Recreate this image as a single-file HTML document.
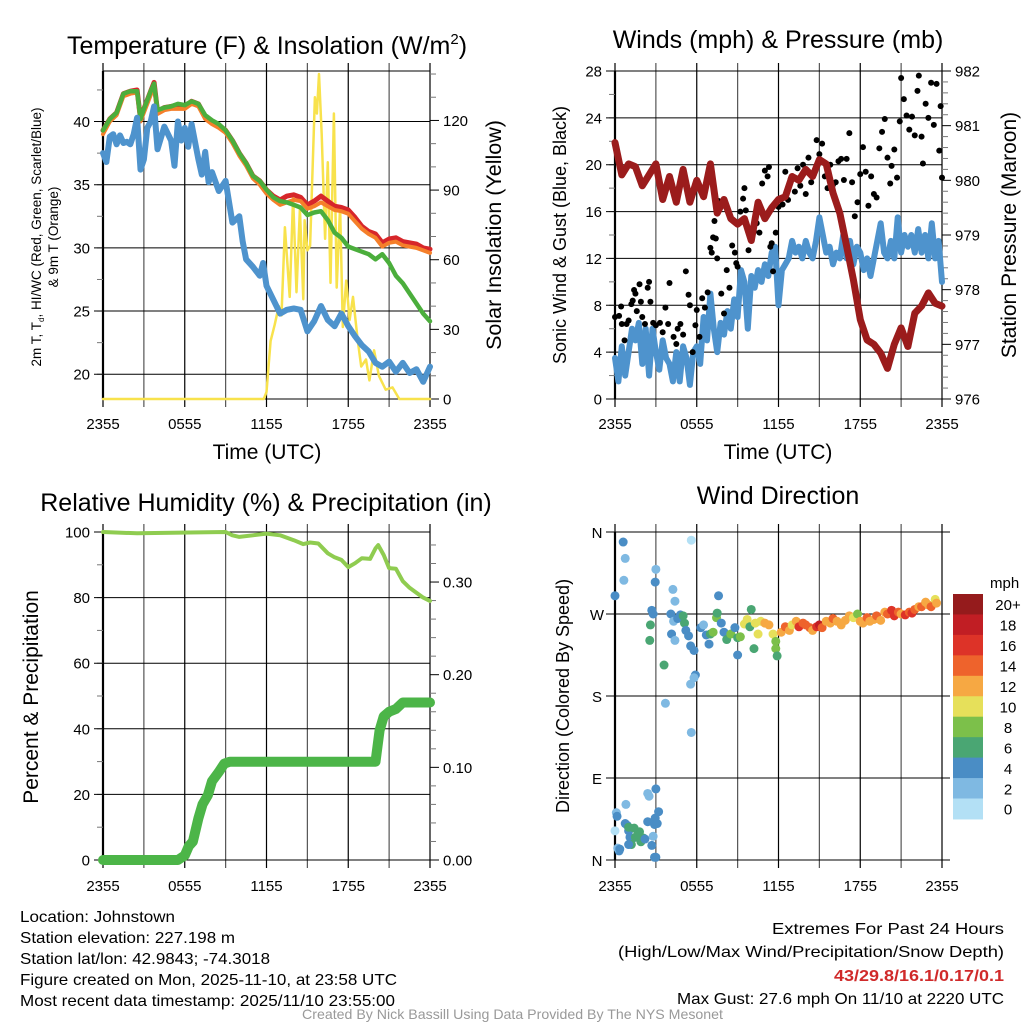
<!DOCTYPE html>
<html><head><meta charset="utf-8">
<style>
html,body{margin:0;padding:0;background:#fff;}
svg{display:block;font-family:"Liberation Sans",sans-serif;}
</style></head>
<body>
<svg id="fig" width="1024" height="1024" viewBox="0 0 1024 1024" xmlns="http://www.w3.org/2000/svg">
<rect x="0" y="0" width="1024" height="1024" fill="#fff"/>
<text x="267" y="54" font-size="25" text-anchor="middle">Temperature (F) &amp; Insolation (W/m<tspan font-size="15" dy="-10">2</tspan><tspan dy="10">)</tspan></text>
<text x="778" y="48" font-size="25" text-anchor="middle">Winds (mph) &amp; Pressure (mb)</text>
<text x="266" y="511" font-size="25" text-anchor="middle">Relative Humidity (%) &amp; Precipitation (in)</text>
<text x="778" y="504" font-size="25" text-anchor="middle">Wind Direction</text>
<g font-size="16">
<text x="20" y="922" textLength="155" lengthAdjust="spacingAndGlyphs">Location: Johnstown</text>
<text x="20" y="943" textLength="215" lengthAdjust="spacingAndGlyphs">Station elevation: 227.198 m</text>
<text x="20" y="964" textLength="250" lengthAdjust="spacingAndGlyphs">Station lat/lon: 42.9843; -74.3018</text>
<text x="20" y="985" textLength="377" lengthAdjust="spacingAndGlyphs">Figure created on Mon, 2025-11-10, at 23:58 UTC</text>
<text x="20" y="1006" textLength="375" lengthAdjust="spacingAndGlyphs">Most recent data timestamp: 2025/11/10 23:55:00</text>
<text x="772" y="934" textLength="232" lengthAdjust="spacingAndGlyphs">Extremes For Past 24 Hours</text>
<text x="618" y="957" textLength="386" lengthAdjust="spacingAndGlyphs">(High/Low/Max Wind/Precipitation/Snow Depth)</text>
<text x="834" y="981" textLength="170" lengthAdjust="spacingAndGlyphs" fill="#d02a2a" font-weight="bold">43/29.8/16.1/0.17/0.1</text>
<text x="677" y="1004" textLength="327" lengthAdjust="spacingAndGlyphs">Max Gust: 27.6 mph On 11/10 at 2220 UTC</text>
<text x="302" y="1019" font-size="14" textLength="421" lengthAdjust="spacingAndGlyphs" fill="#999">Created By Nick Bassill Using Data Provided By The NYS Mesonet</text>
</g>
</svg>
<script>
// ---------- data ----------
const xTickLabels = ["2355","0555","1155","1755","2355"];
const tempTicks = [20,25,30,35,40];
const solarTicks = [0,30,60,90,120];
const windTicks = [0,4,8,12,16,20,24,28];
const presTicks = [976,977,978,979,980,981,982];
const rhTicks = [0,20,40,60,80,100];
const precipTicks = ["0.00","0.10","0.20","0.30"];
const dirTicks = ["N","E","S","W","N"];
const cbLabels = ["20+","18","16","14","12","10","8","6","4","2","0"];

const tHalf = [0,0.5,1,1.5,2,2.5,2.75,3,3.5,3.75,4,4.5,5,5.5,6,6.5,7,7.5,8,8.5,9,9.5,10,10.5,11,11.5,12,12.5,13,13.5,14,14.5,15,15.5,16,16.5,17,17.5,18,18.5,19,19.5,20,20.5,21,21.5,22,22.5,23,23.5,24];
const tempRed = [39.3,40.2,40.7,42.2,42.4,42.5,40.2,41.0,42.4,43.1,40.8,41.1,41.2,41.3,41.2,41.6,41.4,40.4,40.0,39.7,39.3,38.5,37.5,36.7,35.7,35.3,34.6,34.1,33.8,34.1,34.2,34.0,33.4,33.7,34.1,33.7,33.3,33.2,33.0,32.4,31.7,31.3,31.1,30.4,30.7,30.8,30.5,30.4,30.3,30.0,29.9];
const tempOrange = [39.0,40.0,40.5,42.0,42.2,42.3,40.0,40.7,42.1,42.8,40.6,40.9,41.0,41.0,41.0,41.4,41.2,40.2,39.8,39.5,39.1,38.3,37.3,36.5,35.5,35.0,34.3,33.8,33.4,33.6,33.8,33.7,33.1,33.3,33.6,33.3,33.0,32.9,32.7,32.1,31.5,31.1,30.8,30.1,30.4,30.5,30.2,30.1,30.0,29.8,29.6];
const tempGreen = [39.3,40.2,40.7,42.2,42.4,42.4,40.2,41.0,42.4,43.0,40.9,41.1,41.2,41.4,41.3,41.6,41.4,40.5,40.1,39.8,39.3,38.5,37.5,36.7,35.7,35.3,34.6,34.0,33.7,33.6,33.4,33.2,32.6,32.8,32.9,32.2,31.2,30.8,30.1,29.9,29.7,29.5,29.1,29.5,28.8,27.8,27.2,26.4,25.6,24.8,24.2];
const dewT = [0,0.25,0.5,0.75,1,1.25,1.5,1.75,2,2.25,2.5,2.75,3,3.25,3.5,3.75,4,4.5,5,5.25,5.5,5.75,6,6.25,6.5,7,7.25,7.5,7.75,8,8.5,9,9.5,10,10.25,10.5,11,11.5,11.75,12,12.5,13,13.5,14,14.5,15,15.5,16,16.5,17,17.5,18,18.5,19,19.5,20,20.5,21,21.5,22,22.5,23,23.5,24];
const dewV = [37.5,36.8,38.8,39.0,38.2,38.9,38.3,38.4,38.2,39.0,40.3,36.2,37.0,39.5,40.0,41.2,37.8,39.6,38.5,36.5,40.0,38.5,39.5,38.0,39.8,37.0,35.8,37.6,35.2,36.0,34.5,35.3,32.0,32.5,30.5,29.1,28.5,27.8,28.8,27.0,25.9,24.8,25.1,25.2,25.1,23.4,24.2,25.4,24.3,23.8,24.8,23.8,23.0,22.3,21.8,20.9,20.6,21.0,20.2,20.9,20.1,20.4,19.4,20.6];
const solarT = [0,11.8,12.0,12.3,12.6,12.9,13.1,13.35,13.7,13.95,14.2,14.45,14.7,14.8,15.0,15.2,15.55,15.7,15.85,16.05,16.3,16.5,16.7,16.95,17.15,17.4,17.6,17.85,18.1,18.35,18.7,18.95,19.3,19.55,19.9,20.25,20.75,21.25,21.75,24];
const solarV = [0,0,3,25,32,40,36,74,44,87,46,82,43,77,64,66,130,123,140,114,69,102,50,123,48,83,31,51,34,44,25,14,17,8,21,10,4,5,0,0];

const windT = [0,0.25,0.5,0.75,1,1.25,1.5,1.75,2,2.25,2.5,2.75,3,3.25,3.5,3.75,4,4.25,4.5,4.75,5,5.25,5.5,5.75,6,6.25,6.5,6.75,7,7.25,7.5,7.75,8,8.25,8.5,8.75,9,9.25,9.5,9.75,10,10.25,10.5,10.75,11,11.25,11.5,11.75,12,12.25,12.5,12.75,13,13.25,13.5,13.75,14,14.25,14.5,14.75,15,15.25,15.5,15.75,16,16.25,16.5,16.75,17,17.25,17.5,17.75,18,18.25,18.5,18.75,19,19.25,19.5,19.75,20,20.25,20.5,20.75,21,21.25,21.5,21.75,22,22.25,22.5,22.75,23,23.25,23.5,23.75,24];
const windV = [3.5,1.5,4.5,2.0,4.0,6.0,5.0,6.5,3.0,6.0,2.0,6.0,4.0,2.5,5.0,3.5,3.0,1.5,4.0,1.5,4.5,3.5,1.2,4.0,4.5,3.0,7.0,5.0,9.0,6.0,4.0,6.5,5.5,7.5,6.0,8.5,7.0,11.0,10.0,6.0,10.5,9.5,11.0,10.0,11.5,10.5,12.5,13.0,8.0,11.0,11.5,12.0,13.5,12.5,13.0,12.0,13.5,12.5,12.0,13.5,15.5,14.0,12.5,13.0,11.5,12.5,12.0,14.0,12.0,13.5,11.5,13.0,12.5,11.0,12.0,10.5,12.0,13.5,15.0,12.5,12.0,13.5,12.0,15.5,12.5,14.0,13.0,14.0,12.5,14.5,12.5,14.0,12.0,15.0,12.0,13.5,10.0];
const presV = [980.69,980.1,980.3,980.25,979.9,980.1,980.3,979.65,980.07,979.6,980.2,979.6,980.0,979.7,980.3,979.4,979.65,979.3,979.2,979.3,978.9,979.6,979.3,979.5,979.65,979.7,980.07,980.0,980.2,980.07,980.38,980.3,979.77,979.4,978.8,978.18,977.45,977.08,977.0,976.84,976.56,977.0,977.3,976.96,977.57,977.7,977.94,977.75,977.7];
const presT = [0,0.5,1,1.5,2,2.5,3,3.5,4,4.5,5,5.5,6,6.5,7,7.5,8,8.5,9,9.5,10,10.5,11,11.5,12,12.5,13,13.5,14,14.5,15,15.5,16,16.5,17,17.5,18,18.5,19,19.5,20,20.5,21,21.5,22,22.5,23,23.5,24];
const gustT = [0,0.3,0.45,0.5,0.7,0.85,1.0,1.2,1.3,1.4,1.5,1.6,1.8,1.9,2.0,2.2,2.4,2.5,2.6,2.8,3.0,3.3,3.5,3.7,3.9,4.0,4.3,4.5,4.6,4.8,5.0,5.2,5.4,5.5,5.7,5.9,6.0,6.2,6.4,6.6,6.8,7.0,7.1,7.2,7.3,7.4,7.5,7.6,7.8,8.0,8.2,8.4,8.6,8.8,8.9,9.0,9.2,9.4,9.5,9.6,9.8,10.0,10.2,10.4,10.6,10.8,11.0,11.2,11.3,11.4,11.5,11.6,11.8,12.0,12.3,12.5,12.7,12.9,13.2,13.4,13.6,13.8,14.0,14.2,14.4,14.6,14.8,15.0,15.2,15.4,15.6,15.8,16.0,16.2,16.4,16.6,16.8,17.0,17.2,17.4,17.6,17.8,18.0,18.2,18.4,18.6,18.8,19.0,19.2,19.4,19.6,19.8,20.0,20.2,20.3,20.5,20.7,20.9,21.0,21.2,21.4,21.6,21.8,22.0,22.2,22.3,22.5,22.6,22.8,23.0,23.2,23.4,23.6,23.8,23.9,24.0];
const gustV = [7.0,7.1,7.9,6.4,5.0,6.4,6.7,8.1,8.4,9.3,9.0,7.5,9.8,8.3,7.0,6.4,9.5,10.0,8.3,6.5,6.3,6.5,5.7,7.8,6.4,9.9,5.3,4.7,6.0,6.4,5.5,10.9,8.9,8.0,4.0,6.3,7.6,5.3,8.6,7.8,9.1,12.9,12.5,13.8,15.2,13.7,12.0,16.9,9.0,7.3,11.0,9.5,13.1,12.5,11.6,11.3,16.0,17.1,18.0,16.1,12.7,14.5,14.3,15.0,14.2,18.4,19.5,19.0,19.8,13.0,13.3,10.9,14.2,16.4,16.6,19.4,17.0,18.8,17.7,19.7,18.2,20.0,17.5,20.6,18.5,19.2,22.1,20.9,21.8,19.0,18.0,20.0,18.3,18.5,20.3,20.5,18.7,20.5,22.7,18.5,15.6,16.8,19.2,21.5,19.4,16.5,19.0,17.5,17.2,21.4,22.8,23.9,20.6,18.4,19.9,21.3,18.9,23.7,27.4,25.6,24.2,23.0,24.1,22.5,26.3,27.6,22.4,20.1,25.2,24.0,27.0,23.4,26.9,21.2,25.0,18.9];

const rhT = [0,2.5,9,9.5,10,11,12,13,14,14.7,15.2,15.8,16.5,17,17.5,18,18.5,19,19.6,20.0,20.2,20.6,21,21.5,22,22.5,23,23.5,24];
const rhV = [100,99.6,100,99,98.5,99,99.5,99,97.5,96.3,96.8,96.5,93.5,92.3,91.5,89.3,90.5,92,91.8,95,96,93,89,88.8,85,83,81.5,80,79];
const precipT = [0,5.5,6.0,6.3,6.6,7.0,7.3,7.7,8.0,8.5,8.9,9.3,20.0,20.3,20.6,21.0,21.5,22.0,24];
const precipV = [0,0,0.005,0.015,0.02,0.045,0.06,0.07,0.085,0.095,0.104,0.106,0.106,0.14,0.155,0.16,0.163,0.17,0.17];

const dirT = [0.0,0.6,0.75,0.65,3.0,2.95,2.7,2.8,2.6,2.55,3.6,3.7,4.25,4.4,4.1,4.3,4.15,4.4,4.6,4.8,5.0,5.1,5.2,5.4,5.55,5.8,5.9,5.55,5.8,5.6,5.6,6.3,6.5,6.7,6.9,7.0,7.2,7.45,7.5,7.6,7.8,8.0,8.2,8.5,8.8,9.0,9.2,9.0,9.5,9.7,9.9,10.0,10.2,10.3,10.5,10.7,11.0,11.3,11.6,11.8,11.8,11.9,12.2,12.5,12.8,13.0,13.3,13.5,13.8,14.0,14.3,14.5,14.8,15.0,15.2,15.5,15.8,16.0,16.3,16.6,16.9,17.2,17.5,17.8,18.0,18.2,18.5,18.7,19.0,19.2,19.5,19.8,20.0,20.3,20.5,20.8,21.0,21.3,21.6,21.8,22.0,22.3,22.5,22.8,23.0,23.2,23.5,23.6,0.0,0.1,0.15,0.3,0.2,0.35,0.8,0.75,0.9,1.0,1.1,1.2,1.5,1.7,1.9,1.8,1.0,1.4,1.2,2.1,2.2,2.4,2.4,2.5,3.0,2.95,2.9,2.8,2.7,3.0,2.9,3.2,3.1,1.0];
const dirV = [290,349,331,307,319,305,274,270,258,241,214,172,297,284,270,262,248,241,265,269,268,260,252,246,235,230,203,193,200,140,351,255,258,247,237,248,250,266,271,290,260,250,242,248,255,244,245,225,259,264,256,275,232,260,248,262,260,258,248,240,232,224,250,256,252,258,262,256,260,258,255,252,256,258,255,262,260,265,262,258,263,268,266,270,262,260,266,262,264,268,263,272,270,274,268,272,270,269,272,271,275,278,278,283,280,278,286,282,32,52,48,10,13,12,61,40,38,32,25,22,25,29,20,31,36,35,17,24,23,42,73,70,78,46,39,26,16,3,3,53,40,17];
const dirSpd = [4,4,2,2,2,4,4,4,6,6,6,2,2,2,4,2,4,2,4,4,6,6,4,4,4,4,4,2,2,2,0,4,2,4,4,6,8,8,6,4,4,4,6,8,4,6,8,4,10,10,6,6,6,10,10,10,12,12,10,8,8,6,12,14,12,10,12,16,14,14,14,12,16,18,14,12,12,14,12,12,12,12,10,8,12,12,14,12,12,14,12,12,14,16,16,14,12,16,14,16,14,12,14,12,12,14,10,12,0,2,4,4,2,4,2,4,4,4,4,4,6,6,6,6,6,6,6,6,4,4,2,2,4,4,4,2,4,4,4,4,4,4];
const cbColors = ["#951b1c","#c11e24","#dd3328","#ee632c","#f6a843","#e6e05a","#7cc04a","#4aa673","#4a8dc5","#7fb9e2","#b3e0f5"];

// ---------- drawing ----------
const NS = "http://www.w3.org/2000/svg";
const svg = document.getElementById("fig");
function mk(tag, parent){ const e=document.createElementNS(NS,tag); (parent||svg).appendChild(e); return e; }
function set(e,o){ for(const k in o) e.setAttribute(k,o[k]); return e; }

function makePanel(name, L, R, T, B, yMin, yMax, y2Min, y2Max){
  const p = {L,R,T,B};
  p.x = t => L + (t/24)*(R-L);
  p.y = v => B - (v-yMin)/(yMax-yMin)*(B-T);
  p.y2 = v => B - (v-y2Min)/(y2Max-y2Min)*(B-T);
  p.g = mk("g");
  
  
  return p;
}
function frame(p){
  for(let h=0; h<=24; h+=3){
    const gl = set(mk("line",p.g),{x1:p.x(h),x2:p.x(h),y1:p.T-8,y2:p.B+8,stroke:(h%6===0)?"#000":"#555","stroke-width":1.2});
    
    
  }
  const bx = set(mk("rect",p.g),{x:p.L,y:p.T,width:p.R-p.L,height:p.B-p.T,fill:"none",stroke:"#000","stroke-width":1});
  
  
  const lb = set(mk("line",p.g),{x1:p.L,x2:p.L,y1:p.T,y2:p.B,stroke:"#000","stroke-width":2.2});
  
  
}
function xLabels(p, y){
  xTickLabels.forEach((s,i)=>{
    const t = set(mk("text",p.g),{x:p.x(i*6),y:y,"font-size":15,"text-anchor":"middle"});
    t.textContent = s;
    
    
  });
}
function leftTicks(p, vals, fmt, yfn, minorStep, vmin, vmax){
  for(let v=vmin; v<=vmax+1e-9; v+=minorStep){
    const m = set(mk("line",p.g),{x1:p.L-6,x2:p.L,y1:yfn(v),y2:yfn(v),stroke:"#777","stroke-width":1});
    
    
  }
  vals.forEach(v=>{
    const g = set(mk("line",p.g),{x1:p.L-9,x2:p.R,y1:yfn(v),y2:yfn(v),stroke:"#000","stroke-width":1});
    
    
    const t = set(mk("text",p.g),{x:p.L-13,y:yfn(v)+5.5,"font-size":15,"text-anchor":"end"});
    t.textContent = fmt(v);
    
    
  });
}
function rightTicks(p, vals, labels, yfn, minors){
  minors.forEach(v=>{
    const m = set(mk("line",p.g),{x1:p.R,x2:p.R+6,y1:yfn(v),y2:yfn(v),stroke:"#777","stroke-width":1});
    
    
  });
  vals.forEach((v,i)=>{
    const g = set(mk("line",p.g),{x1:p.R,x2:p.R+9,y1:yfn(v),y2:yfn(v),stroke:"#000","stroke-width":1});
    
    
    const t = set(mk("text",p.g),{x:p.R+13,y:yfn(v)+5.5,"font-size":15});
    t.textContent = labels[i];
    
    
  });
}
function vtitle(p, x, y, txt, size, name){
  const t = set(mk("text",p.g),{x:0,y:0,"font-size":size,"text-anchor":"middle",transform:`translate(${x},${y}) rotate(-90)`});
  t.innerHTML = txt;
  
  
  return t;
}
function line(p, ts, vs, yfn, color, w, name){
  const d = ts.map((t,i)=>(i?"L":"M")+p.x(t).toFixed(1)+","+yfn(vs[i]).toFixed(1)).join("");
  const e = set(mk("path",p.g),{d:d,fill:"none",stroke:color,"stroke-width":w,"stroke-linejoin":"round","stroke-linecap":"round"});
  
  
}

// Panel 1: temperature
const p1 = makePanel("temperature-panel",103,430,71,399,18.04,44.0,0,141.3);
frame(p1);
leftTicks(p1,tempTicks,v=>String(v),p1.y,2.5,20,42.5);
rightTicks(p1,solarTicks,solarTicks.map(String),p1.y2,[10,20,40,50,70,80,100,110,130,140]);
xLabels(p1,429);
const tx = set(mk("text",p1.g),{x:267,y:459,"font-size":21,"text-anchor":"middle"}); tx.textContent="Time (UTC)";


vtitle(p1,41,237,"2m T, T<tspan font-size='8' dy='3'>d</tspan><tspan dy='-3'>, HI/WC (Red, Green, Scarlet/Blue)</tspan>",13.5,"y-axis-title");
vtitle(p1,58,237,"&amp; 9m T (Orange)",13.5,"y-axis-title-line2");
vtitle(p1,501,235,"Solar Insolation (Yellow)",21.5,"y2-axis-title");
line(p1,solarT,solarV,p1.y2,"#f8e24c",2.5,"solar-insolation-line");
line(p1,tHalf,tempRed,p1.y,"#d7262a",5,"temperature-2m-line");
line(p1,tHalf,tempOrange,p1.y,"#f57f2a",4,"temperature-9m-line");
line(p1,tHalf,tempGreen,p1.y,"#4bae3c",4.5,"heat-index-wind-chill-line");
line(p1,dewT,dewV,p1.y,"#4e93cd",6,"dewpoint-line");

// Panel 2: winds
const p2 = makePanel("winds-panel",615,942,71,399,0,28,976,982);
frame(p2);
leftTicks(p2,windTicks,v=>String(v),p2.y,2,0,28);
rightTicks(p2,presTicks,presTicks.map(String),p2.y2,[976.2,976.4,976.6,976.8,977.2,977.4,977.6,977.8,978.2,978.4,978.6,978.8,979.2,979.4,979.6,979.8,980.2,980.4,980.6,980.8,981.2,981.4,981.6,981.8]);
xLabels(p2,429);
const tx2 = set(mk("text",p2.g),{x:778,y:459,"font-size":21,"text-anchor":"middle"}); tx2.textContent="Time (UTC)";


vtitle(p2,566,235,"Sonic Wind &amp; Gust (Blue, Black)",18,"y-axis-title");
vtitle(p2,1016,235,"Station Pressure (Maroon)",21,"y2-axis-title");
line(p2,windT,windV,p2.y,"#4e93cd",6,"sonic-wind-line");
gustT.forEach((t,i)=>{
  const c = set(mk("circle",p2.g),{cx:p2.x(t),cy:p2.y(gustV[i]),r:3,fill:"#000"});
  
  
});
line(p2,presT,presV,p2.y2,"#9b1c1c",7,"station-pressure-line");

// Panel 3: RH & precip
const p3 = makePanel("humidity-panel",103,430,532,860,0,100,0,0.354);
frame(p3);
leftTicks(p3,rhTicks,v=>String(v),p3.y,10,0,100);
rightTicks(p3,[0,0.1,0.2,0.3],precipTicks,p3.y2,[0.02,0.04,0.06,0.08,0.12,0.14,0.16,0.18,0.22,0.24,0.26,0.28,0.32,0.34]);
xLabels(p3,891);
vtitle(p3,38,697,"Percent &amp; Precipitation",21,"y-axis-title");
line(p3,rhT,rhV,p3.y,"#8fcc50",4,"relative-humidity-line");
line(p3,precipT,precipV,p3.y2,"#4cb548",10,"precipitation-line");

// Panel 4: wind direction
const p4 = makePanel("wind-direction-panel",615,942,532,860,0,360,0,1);
frame(p4);
dirTicks.forEach((s,i)=>{
  const v = i*90;
  const g = set(mk("line",p4.g),{x1:p4.L-9,x2:p4.R+8,y1:p4.y(v),y2:p4.y(v),stroke:"#000","stroke-width":1});
  
  
  const t = set(mk("text",p4.g),{x:p4.L-18,y:p4.y(v)+6,"font-size":15,"text-anchor":"middle"});
  t.textContent = s;
  
  
});
xLabels(p4,891);
vtitle(p4,569,696,"Direction (Colored By Speed)",18,"y-axis-title");
function spdColor(s){ const idx = Math.min(10, Math.floor(s/2)); return cbColors[10-idx]; }
dirT.forEach((t,i)=>{
  const c = set(mk("circle",p4.g),{cx:p4.x(t),cy:p4.y(dirV[i]),r:4.5,fill:spdColor(dirSpd[i])});
  
  
});
// colorbar
const cb = mk("g");


const cbTop = 594, cbH = 20.45;
cbColors.forEach((col,i)=>{
  const r = set(mk("rect",cb),{x:953,y:cbTop+i*cbH,width:30,height:cbH+0.5,fill:col});
  
  
  const t = set(mk("text",cb),{x:1008,y:cbTop+i*cbH+cbH/2+6,"font-size":15,"text-anchor":"middle"});
  t.textContent = cbLabels[i];
  
  
});
const mph = set(mk("text",cb),{x:990,y:588,"font-size":15}); mph.textContent="mph";


</script>
</body></html>
